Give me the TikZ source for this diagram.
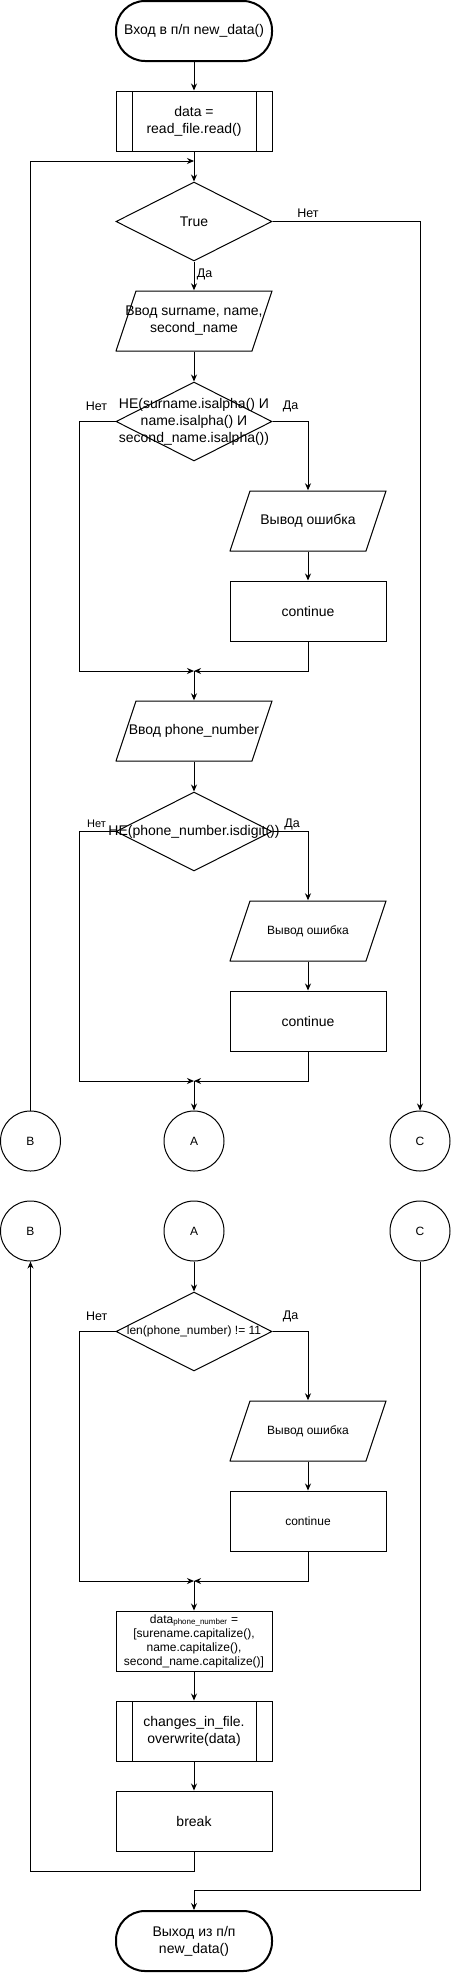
\documentclass[tikz,border=0pt]{standalone}
\usepackage{fontspec}
\setmainfont{Liberation Sans}
\usetikzlibrary{shapes.geometric,arrows.meta}

\begin{document}
\begin{tikzpicture}[x=1pt,y=-1pt,
  every node/.style={font=\fontsize{14}{17}\selectfont},
  arr/.style={-{Stealth[length=7pt,width=6pt]},line width=1pt},
  term/.style={draw,line width=2pt,rounded corners=29pt,minimum width=156pt,minimum height=60pt,align=center,inner sep=0pt},
  proc/.style={draw,line width=1pt,minimum width=156pt,minimum height=60pt,align=center,inner sep=0pt},
  sub/.style={proc,path picture={
    \draw[line width=1pt] ([xshift=16pt]path picture bounding box.north west) -- ([xshift=16pt]path picture bounding box.south west)
      ([xshift=-16pt]path picture bounding box.north east) -- ([xshift=-16pt]path picture bounding box.south east);}},
  io/.style={minimum width=157pt,minimum height=61pt,align=center,inner sep=0pt,path picture={
    \draw[line width=1pt] ([shift={(0.5pt,0.5pt)}]path picture bounding box.south west)
      -- ([shift={(20.5pt,-0.5pt)}]path picture bounding box.north west)
      -- ([shift={(-0.5pt,-0.5pt)}]path picture bounding box.north east)
      -- ([shift={(-20.5pt,0.5pt)}]path picture bounding box.south east) -- cycle;}},
  dec/.style={draw,line width=1pt,diamond,minimum width=156pt,minimum height=79pt,inner sep=0pt},
  conn/.style={draw,line width=1pt,circle,minimum size=60pt,inner sep=0pt,font=\fontsize{12}{14}\selectfont},
  small/.style={font=\fontsize{12}{14}\selectfont},
  lbl/.style={font=\fontsize{12.5}{15}\selectfont,inner sep=0pt}
]
\useasboundingbox (0,0) rectangle (451,1973);

\node[term] (start) at (194,31) {Вход в п/п new\_data()};
\node[sub] (read) at (194,121) {data =\\read\_file.read()};
\coordinate (loop) at (194,161);
\node[dec,label={center:True}] (true) at (194,221.5) {};
\node[io] (in1) at (194,321) {Ввод surname, name,\\second\_name};
\node[dec,label={[align=center]center:НЕ(surname.isalpha() И\\name.isalpha() И\\second\_name.isalpha())}] (chk1) at (194,421.5) {};
\node[io] (err1) at (308,521) {Вывод ошибка};
\node[proc] (cont1) at (308,611) {continue};
\coordinate (m1) at (194,671);

\node[io] (in2) at (194,731) {Ввод phone\_number};
\node[dec,label={center:НЕ(phone\_number.isdigit())}] (chk2) at (194,831.5) {};
\node[io,small] (err2) at (308,931) {Вывод ошибка};
\node[proc] (cont2) at (308,1021) {continue};
\coordinate (m2) at (194,1081);

\node[conn] (b1) at (30.5,1141) {B};
\node[conn] (a1) at (194,1141) {A};
\node[conn] (c1) at (420,1141) {C};
\node[conn] (b2) at (30.5,1231) {B};
\node[conn] (a2) at (194,1231) {A};
\node[conn] (c2) at (420,1231) {C};

\node[dec,label={[small]center:len(phone\_number) != 11}] (chk3) at (194,1331.5) {};
\node[io,small] (err3) at (308,1431) {Вывод ошибка};
\node[proc,small] (cont3) at (308,1521) {continue};
\coordinate (m3) at (194,1581);

\node[proc,small] (calc) at (194,1641) {data\textsubscript{phone\_number} =\\{[}surename.capitalize(),\\name.capitalize(),\\second\_name.capitalize()]};
\node[sub] (save) at (194,1731) {changes\_in\_file.\\overwrite(data)};
\node[proc] (brk) at (194,1821) {break};
\node[term] (end) at (194,1941) {Выход из п/п\\new\_data()};

\node[lbl] (no1) at (308,213) {Нет};
\node[lbl] (yes1) at (204.5,274) {Да};
\node[lbl] (no2) at (96.5,406) {Нет};
\node[lbl] (yes2) at (290.5,406) {Да};
\node[lbl,font=\fontsize{11}{13}\selectfont] (no3) at (96.5,824) {Нет};
\node[lbl] (yes3) at (292,824) {Да};
\node[lbl] (no4) at (96.7,1316) {Нет};
\node[lbl] (yes4) at (290.5,1316) {Да};

\draw[arr] (start) -- (read);
\draw[arr] (read) -- (true);
\draw[arr] (b1.north) |- (loop);
\draw[arr] (true.east) -| (c1.north);
\draw[arr] (true) -- (in1);
\draw[arr] (in1) -- (chk1);
\draw[arr] (chk1.east) -| (err1.north);
\draw[arr] (err1) -- (cont1);
\draw[arr] (cont1.south) |- (m1);
\draw[arr] (chk1.west) -- ++(-36,0) |- (m1);
\draw[arr] (m1) -- (in2);
\draw[arr] (in2) -- (chk2);
\draw[arr] (chk2.east) -| (err2.north);
\draw[arr] (err2) -- (cont2);
\draw[arr] (cont2.south) |- (m2);
\draw[arr] (chk2.west) -- ++(-36,0) |- (m2);
\draw[arr] (m2) -- (a1);
\draw[arr] (a2) -- (chk3);
\draw[arr] (chk3.east) -| (err3.north);
\draw[arr] (err3) -- (cont3);
\draw[arr] (cont3.south) |- (m3);
\draw[arr] (chk3.west) -- ++(-36,0) |- (m3);
\draw[arr] (m3) -- (calc);
\draw[arr] (calc) -- (save);
\draw[arr] (save) -- (brk);
\draw[arr] (brk.south) -- ([yshift=-20pt]brk.south) -| (b2.south);
\draw[arr] (c2.south) |- ([yshift=20pt]end.north) -- (end.north);
\end{tikzpicture}
\end{document}
